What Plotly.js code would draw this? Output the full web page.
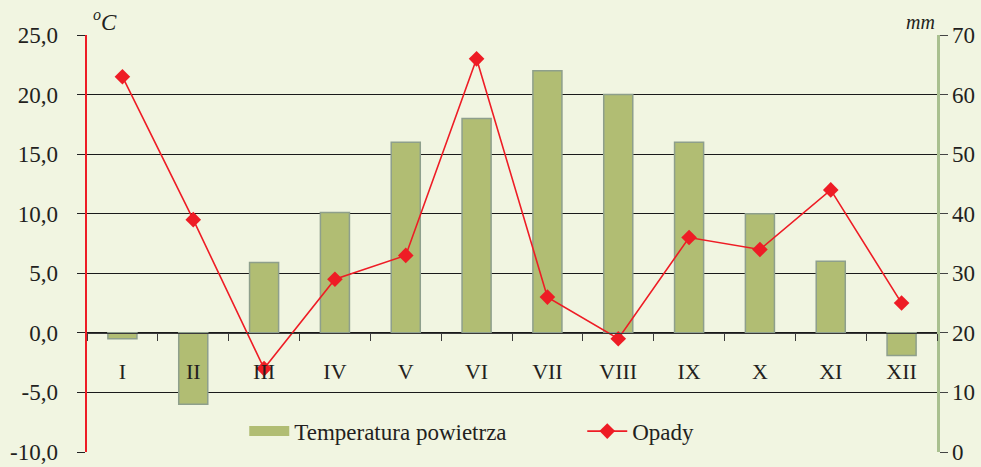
<!DOCTYPE html>
<html>
<head>
<meta charset="utf-8">
<script src="https://cdn.plot.ly/plotly-3.0.1.min.js"></script>
<style>html,body{margin:0;padding:0;background:#f1f5e1;}</style>
</head>
<body>
<div id="chart" style="width:981px;height:467px;"></div>
<script>
const months = ["I","II","III","IV","V","VI","VII","VIII","IX","X","XI","XII"];
const temperature = [-0.5, -6.0, 5.9, 10.1, 16.0, 18.0, 22.0, 20.0, 16.0, 10.0, 6.0, -1.9];
const precipitation = [63, 39, 14, 29, 33, 66, 26, 19, 36, 34, 44, 25];
const tempLabel = "Temperatura powietrza";
const precLabel = "Opady";
const leftTicks = [-10, -5, 0, 5, 10, 15, 20, 25];
const leftTickText = ["-10,0", "-5,0", "0,0", "5,0", "10,0", "15,0", "20,0", "25,0"];
const rightTicks = [0, 10, 20, 30, 40, 50, 60, 70];

const serif = "Liberation Serif";
const txt = "#231f20";
const bg = "#f1f5e1";
const barColor = "#b1bd73";

const traces = [
  {
    type: "bar", name: tempLabel, x: months, y: temperature,
    width: 0.41, yaxis: "y", xaxis: "x", showlegend: false,
    marker: {color: barColor, line: {color: "#8e9f8c", width: 1.5}}
  },
  {
    type: "scatter", mode: "lines", name: tempLabel,
    x: [null], y: [null], yaxis: "y", xaxis: "x",
    line: {color: barColor, width: 16}
  },
  {
    type: "scatter", mode: "lines+markers", name: precLabel,
    x: months, y: precipitation, yaxis: "y2", xaxis: "x",
    line: {color: "#ee1c25", width: 1.6},
    marker: {symbol: "diamond", size: 12, color: "#ee1c25"}
  }
];

const layout = {
  width: 981, height: 467,
  margin: {l: 87, r: 44, t: 35, b: 15},
  paper_bgcolor: bg, plot_bgcolor: bg,
  separators: ", ",
  font: {family: serif, size: 20, color: txt},
  showlegend: true,
  legend: {
    orientation: "h", x: 0.185, xanchor: "left", y: 0.05, yanchor: "middle",
    bgcolor: "rgba(0,0,0,0)", font: {family: serif, size: 23, color: txt},
    entrywidth: 283, itemwidth: 40
  },
  xaxis: {
    type: "category", range: [-0.5, 11.5],
    anchor: "free", position: 10/35,
    showline: true, linecolor: "#3a3a3a", linewidth: 1.2,
    ticks: "outside", ticklen: 7, tickwidth: 1, tickcolor: "#3a3a3a",
    tickson: "boundaries", ticklabelstandoff: 19,
    tickfont: {family: serif, size: 22, color: txt},
    showgrid: false, zeroline: false
  },
  xaxis2: {
    type: "category", range: [-0.5, 11.5], overlaying: "x",
    anchor: "free", position: 10/35, matches: "x",
    showline: false, ticks: "inside", ticklen: 7, tickwidth: 1, tickcolor: "#3a3a3a",
    tickson: "boundaries", showticklabels: false, showgrid: false, zeroline: false
  },
  yaxis: {
    range: [-10, 25], tickvals: leftTicks, ticktext: leftTickText,
    showline: true, linecolor: "#ee1c25", linewidth: 2.5,
    ticks: "outside", ticklen: 8, tickcolor: "#222", tickwidth: 1,
    ticklabelstandoff: 14,
    showgrid: true, gridcolor: "#1a1a1a", gridwidth: 1,
    zeroline: false, tickfont: {family: serif, size: 23, color: txt}
  },
  yaxis2: {
    range: [0, 70], tickvals: rightTicks, overlaying: "y", side: "right",
    showline: true, linecolor: "#a9c08f", linewidth: 2.5,
    ticks: "outside", ticklen: 8, tickcolor: "#444", tickwidth: 1,
    showgrid: false, zeroline: false, tickfont: {family: serif, size: 23, color: txt}
  },
  annotations: [
    {xref: "paper", yref: "paper", x: 0.0, y: 1.0, xanchor: "left", yanchor: "bottom", xshift: 4, yshift: -2,
     text: "<i><sup>o</sup>C</i>", showarrow: false, font: {family: serif, size: 23, color: txt}},
    {xref: "paper", yref: "paper", x: 1.0, y: 1.0, xanchor: "right", yanchor: "bottom", xshift: 0, yshift: 0,
     text: "<i>mm</i>", showarrow: false, font: {family: serif, size: 20, color: txt}}
  ]
};

Plotly.newPlot("chart", traces, layout, {displayModeBar: false, staticPlot: true});
</script>
</body>
</html>
